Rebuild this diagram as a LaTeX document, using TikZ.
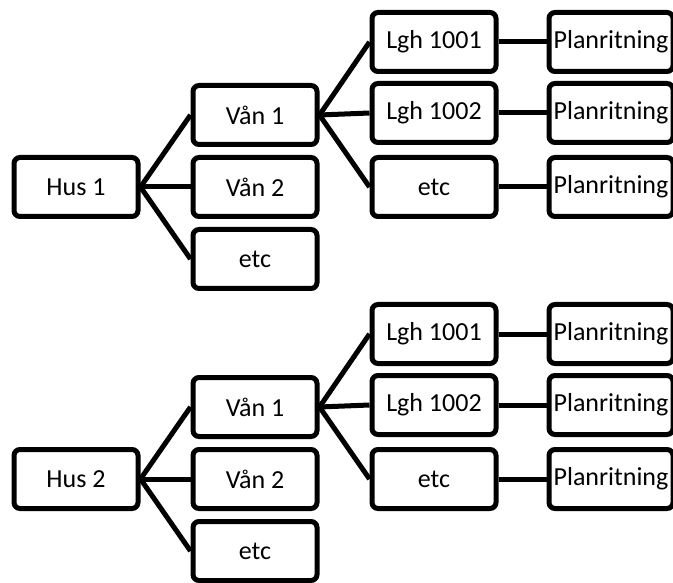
\documentclass[tikz,border=0pt]{standalone}
\usepackage{fontspec}
\setmainfont{Carlito}
\usepackage{tikz}
\usetikzlibrary{positioning}

\begin{document}
\begin{tikzpicture}[
  node distance=8pt and 50pt,
  font=\fontsize{26}{30}\selectfont,
  box/.style={rectangle, rounded corners=6pt, draw, line width=5pt,
              minimum width=124pt, minimum height=59pt, align=center,
              inner sep=0pt},
  conn/.style={line width=5pt}
]
\useasboundingbox (0,0) rectangle (673pt,-583pt);

% House 1
\node[box] (hus1) at (76pt,-187pt) {Hus 1};
\node[box, right=of hus1] (van12) {Vån 2};
\node[box, above=of van12] (van11) {Vån 1};
\node[box, below=of van12] (van1e) {etc};
\node[box, right=of van12] (lgh1e) {etc};
\node[box, above=10pt of lgh1e] (lgh12) {Lgh 1002};
\node[box, above=7pt of lgh12] (lgh11) {Lgh 1001};
\node[box, right=48pt of lgh11] (plan11) {Planritning};
\node[box, right=48pt of lgh12] (plan12) {Planritning};
\node[box, right=48pt of lgh1e] (plan1e) {Planritning};

\draw[conn] (hus1.east) -- (van11.west);
\draw[conn] (hus1.east) -- (van12.west);
\draw[conn] (hus1.east) -- (van1e.west);
\draw[conn] (van11.east) -- (lgh11.west);
\draw[conn] (van11.east) -- (lgh12.west);
\draw[conn] (van11.east) -- (lgh1e.west);
\draw[conn] (lgh11) -- (plan11);
\draw[conn] (lgh12) -- (plan12);
\draw[conn] (lgh1e) -- (plan1e);

% House 2
\node[box] (hus2) at (76pt,-479pt) {Hus 2};
\node[box, right=of hus2] (van22) {Vån 2};
\node[box, above=of van22] (van21) {Vån 1};
\node[box, below=of van22] (van2e) {etc};
\node[box, right=of van22] (lgh2e) {etc};
\node[box, above=10pt of lgh2e] (lgh22) {Lgh 1002};
\node[box, above=7pt of lgh22] (lgh21) {Lgh 1001};
\node[box, right=48pt of lgh21] (plan21) {Planritning};
\node[box, right=48pt of lgh22] (plan22) {Planritning};
\node[box, right=48pt of lgh2e] (plan2e) {Planritning};

\draw[conn] (hus2.east) -- (van21.west);
\draw[conn] (hus2.east) -- (van22.west);
\draw[conn] (hus2.east) -- (van2e.west);
\draw[conn] (van21.east) -- (lgh21.west);
\draw[conn] (van21.east) -- (lgh22.west);
\draw[conn] (van21.east) -- (lgh2e.west);
\draw[conn] (lgh21) -- (plan21);
\draw[conn] (lgh22) -- (plan22);
\draw[conn] (lgh2e) -- (plan2e);
\end{tikzpicture}
\end{document}
